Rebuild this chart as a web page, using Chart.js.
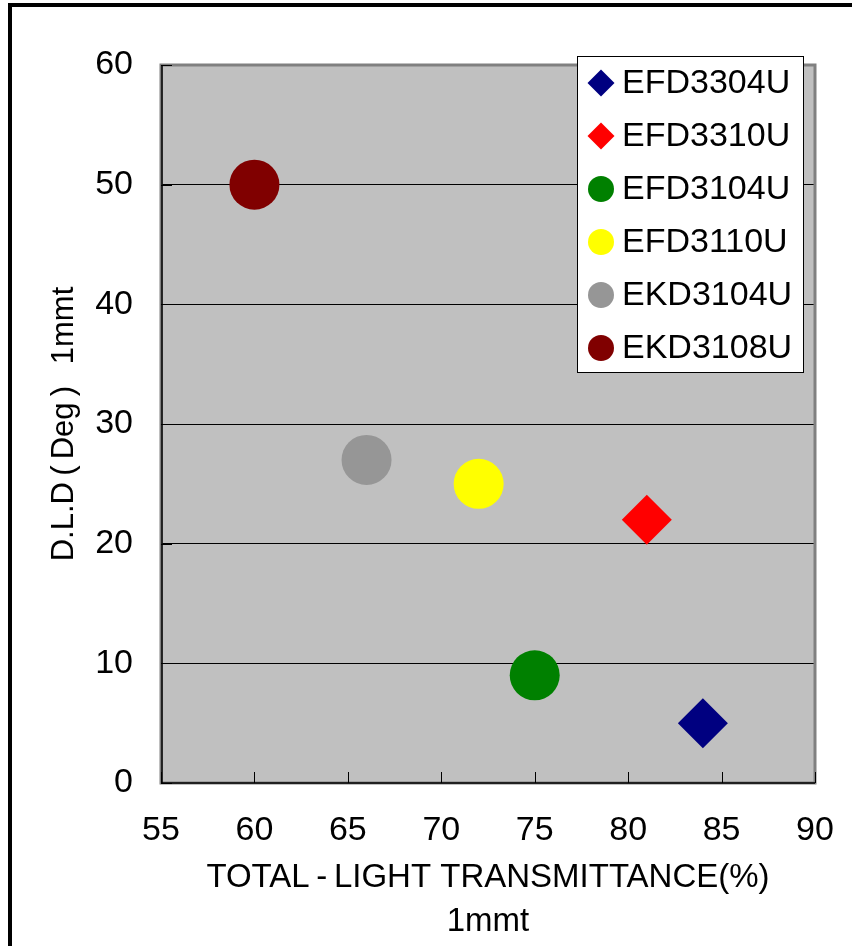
<!DOCTYPE html>
<html>
<head>
<meta charset="utf-8">
<script src="https://cdn.jsdelivr.net/npm/chart.js@4.4.1/dist/chart.umd.min.js"></script>
<style>
  html, body { margin: 0; padding: 0; background: #fff; }
  canvas { display: block; }
</style>
</head>
<body>
<canvas id="dldChart" width="852" height="946"></canvas>
<script>
// series names, in legend order
const seriesNames = ['EFD3304U', 'EFD3310U', 'EFD3104U', 'EFD3110U', 'EKD3104U', 'EKD3108U'];
// total light transmittance (%) per series
const transmittance = [84, 81, 75, 72, 66, 60];
// D.L.D (Deg) per series
const dldValues = [5, 22, 9, 25, 27, 50];
const seriesColors = ['#000080', '#FF0000', '#008000', '#FFFF00', '#969696', '#800000'];
const seriesShapes = ['rectRot', 'rectRot', 'circle', 'circle', 'circle', 'circle'];

const xTitle = ['TOTAL\u2009-\u2009LIGHT TRANSMITTANCE(%)', '1mmt'];
const yTitle = 'D.L.D\u2009(\u2009Deg\u2009)\u2002\u20091mmt';

const FONT = '"Liberation Sans", Arial, sans-serif';

// background, outer frame
const backgroundPlugin = {
    id: 'background',
    beforeDraw(chart) {
        const { ctx, chartArea: a } = chart;
        ctx.save();
        ctx.fillStyle = '#000';
        ctx.fillRect(8, 3, 4, chart.height);
        ctx.fillRect(8, 3, chart.width, 4);
        ctx.fillStyle = '#C0C0C0';
        ctx.fillRect(a.left, a.top, a.right - a.left, a.bottom - a.top);
        ctx.restore();
    }
};

// plot frame + inward tick marks
const framePlugin = {
    id: 'frame',
    beforeDatasetsDraw(chart) {
        const { ctx, chartArea: a, scales } = chart;
        ctx.save();
        ctx.strokeStyle = '#808080';
        ctx.lineWidth = 3;
        ctx.strokeRect(a.left, a.top, a.right - a.left, a.bottom - a.top);

        ctx.strokeStyle = '#000';
        ctx.lineWidth = 1.5;
        ctx.beginPath();
        ctx.moveTo(a.left + 1, a.top);
        ctx.lineTo(a.left + 1, a.bottom);
        ctx.lineTo(a.right, a.bottom);
        ctx.stroke();

        ctx.lineWidth = 1;
        ctx.beginPath();
        scales.x.ticks.forEach((t) => {
            const px = Math.round(scales.x.getPixelForValue(t.value)) + 0.5;
            ctx.moveTo(px, a.bottom);
            ctx.lineTo(px, a.bottom - 11);
        });
        scales.y.ticks.forEach((t) => {
            const py = Math.round(scales.y.getPixelForValue(t.value)) + 0.5;
            ctx.moveTo(a.left, py);
            ctx.lineTo(a.left + 11, py);
        });
        ctx.stroke();
        ctx.restore();
    }
};

// boxed legend in the top right corner of the plot
const legendBoxPlugin = {
    id: 'legendBox',
    afterDraw(chart) {
        const { ctx, chartArea: a } = chart;
        const right = a.right - 12;
        const left = right - 226;
        const top = a.top - 9;
        const rowH = 53;
        const n = chart.data.datasets.length;
        const bottom = top + 26 + (n - 1) * rowH + 25;
        ctx.save();
        ctx.fillStyle = '#fff';
        ctx.fillRect(left, top, right - left, bottom - top);
        ctx.strokeStyle = '#000';
        ctx.lineWidth = 1;
        ctx.strokeRect(left + 0.5, top + 0.5, right - left, bottom - top);

        ctx.font = '34px ' + FONT;
        ctx.textBaseline = 'middle';
        ctx.textAlign = 'left';
        chart.data.datasets.forEach((ds, i) => {
            const cy = top + 27 + i * rowH;
            const cx = left + 24;
            ctx.fillStyle = ds.backgroundColor;
            ctx.beginPath();
            if (ds.pointStyle === 'rectRot') {
                const r = 13.5;
                ctx.moveTo(cx - r, cy);
                ctx.lineTo(cx, cy - r);
                ctx.lineTo(cx + r, cy);
                ctx.lineTo(cx, cy + r);
                ctx.closePath();
            } else {
                ctx.arc(cx, cy, 13, 0, Math.PI * 2);
            }
            ctx.fill();
            ctx.fillStyle = '#000';
            ctx.fillText(ds.label, left + 45, cy + 1);
        });
        ctx.restore();
    }
};

const datasets = seriesNames.map((name, i) => ({
    label: name,
    data: [{ x: transmittance[i], y: dldValues[i] }],
    backgroundColor: seriesColors[i],
    borderColor: seriesColors[i],
    borderWidth: 0,
    pointStyle: seriesShapes[i],
    pointRadius: 25,
    pointHoverRadius: 25
}));

new Chart(document.getElementById('dldChart'), {
    type: 'scatter',
    data: { datasets },
    options: {
        responsive: false,
        animation: false,
        devicePixelRatio: 1,
        layout: { padding: { left: 0, top: 65, right: 37, bottom: 0 } },
        plugins: {
            legend: { display: false },
            tooltip: { enabled: false }
        },
        scales: {
            x: {
                type: 'linear',
                min: 55,
                max: 90,
                afterFit: (scale) => {
                    scale.height = 163;
                    scale.paddingLeft = 0;
                    scale.paddingRight = 0;
                },
                grid: { display: false, drawTicks: false },
                border: { display: false },
                ticks: {
                    stepSize: 5,
                    padding: 27,
                    color: '#000',
                    maxRotation: 0,
                    font: { family: FONT, size: 34 }
                },
                title: {
                    display: true,
                    text: xTitle,
                    color: '#000',
                    padding: { top: 0, bottom: 2 },
                    font: { family: FONT, size: 33, lineHeight: 1.33 }
                }
            },
            y: {
                type: 'linear',
                min: 0,
                max: 60,
                afterFit: (scale) => {
                    scale.width = 161;
                    scale.paddingTop = 0;
                    scale.paddingBottom = 0;
                },
                grid: { color: '#000', lineWidth: 1, drawTicks: false },
                border: { display: false },
                ticks: {
                    stepSize: 10,
                    padding: 28,
                    color: '#000',
                    font: { family: FONT, size: 34 }
                },
                title: {
                    display: true,
                    text: yTitle,
                    color: '#000',
                    padding: { top: 46, bottom: 0 },
                    font: { family: FONT, size: 31, lineHeight: 1.2 }
                }
            }
        }
    },
    plugins: [backgroundPlugin, framePlugin, legendBoxPlugin]
});
</script>
</body>
</html>
